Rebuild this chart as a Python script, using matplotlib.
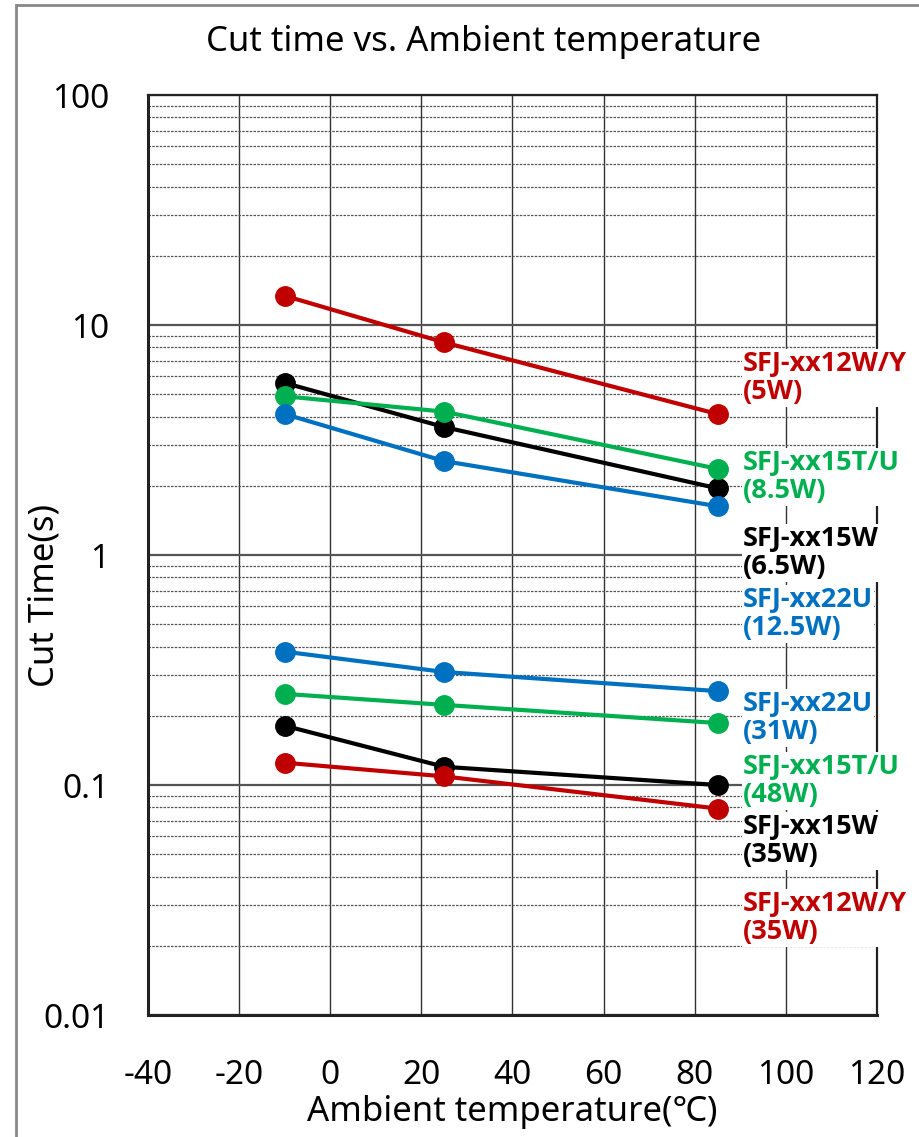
"""
Cut time vs. ambient temperature for the SFJ fuse series.
Rebuilds the log-scale chart and saves it to out.png.
"""

import matplotlib.pyplot as plt
from matplotlib.patches import Rectangle
from matplotlib.ticker import FixedLocator, NullFormatter

plt.rcParams["font.family"] = ["Noto Sans", "DejaVu Sans"]

# ------------------------------------------------------------------
# Data
# ------------------------------------------------------------------
temps = [-10, 25, 85]

red_5w = [13.4, 8.4, 4.1]
black_6w5 = [5.6, 3.6, 1.95]
green_8w5 = [4.9, 4.2, 2.37]
blue_12w5 = [4.1, 2.56, 1.63]
blue_31w = [0.38, 0.31, 0.256]
green_48w = [0.249, 0.223, 0.186]
black_35w = [0.181, 0.12, 0.1]
red_35w = [0.125, 0.109, 0.079]

series_names = [
    "SFJ-xx12W/Y\n(5W)", "SFJ-xx15T/U\n(8.5W)", "SFJ-xx15W\n(6.5W)",
    "SFJ-xx22U\n(12.5W)", "SFJ-xx22U\n(31W)", "SFJ-xx15T/U\n(48W)",
    "SFJ-xx15W\n(35W)", "SFJ-xx12W/Y\n(35W)",
]

x_ticks = [-40, -20, 0, 20, 40, 60, 80, 100, 120]
y_ticks = [0.01, 0.1, 1, 10, 100]
y_ticklabels = ["0.01", "0.1", "1", "10", "100"]

# ------------------------------------------------------------------
# Styles / layout
# ------------------------------------------------------------------
RED = "#C00000"
GREEN = "#00B050"
BLACK = "#000000"
BLUE = "#0070C0"

lines = [
    (red_5w, RED), (black_6w5, BLACK), (green_8w5, GREEN), (blue_12w5, BLUE),
    (blue_31w, BLUE), (green_48w, GREEN), (black_35w, BLACK), (red_35w, RED),
]
label_colors = [RED, GREEN, BLACK, BLUE, BLUE, GREEN, BLACK, RED]
# vertical centre of each two-line label, in pixels from the top
label_y_px = [378, 477, 553, 614, 718, 781, 841, 918]

W, H = 920, 1137
fig = plt.figure(figsize=(W / 100, H / 100), dpi=100)
ax = fig.add_axes([148 / W, 1 - 1015 / H, 729 / W, 920 / H])

for vals, col in lines:
    ax.plot(temps, vals, color=col, lw=3, marker="o", ms=14,
            solid_capstyle="round", zorder=4)

ax.set_yscale("log")
ax.set_xlim(-40, 120)
ax.set_ylim(0.01, 100)
ax.set_xticks(x_ticks)
ax.set_xticklabels([str(t) for t in x_ticks])
ax.yaxis.set_major_locator(FixedLocator(y_ticks))
ax.set_yticklabels(y_ticklabels)
minor = [m * 10.0 ** e for e in range(-2, 2) for m in range(2, 10)]
ax.yaxis.set_minor_locator(FixedLocator(minor))
ax.yaxis.set_minor_formatter(NullFormatter())

ax.grid(True, axis="x", which="major", color="#333333", lw=1.0)
ax.grid(True, axis="y", which="major", color="#555555", lw=1.6)
ax.grid(True, axis="y", which="minor", color="#555555", lw=0.9,
        linestyle=(0, (2, 1)))
ax.set_axisbelow(True)

ax.tick_params(which="both", length=0, labelsize=24)
ax.tick_params(axis="y", pad=28)
ax.tick_params(axis="x", pad=32)
for sp in ax.spines.values():
    sp.set_color("#222222")
    sp.set_linewidth(1.6)
ax.spines["bottom"].set_linewidth(2.2)
ax.spines["left"].set_linewidth(2.2)

ax.set_xlabel("Ambient temperature(℃)", fontsize=25, labelpad=2)

fig.text(45 / W, 1 - 595 / H, "Cut Time(s)", fontsize=25, rotation=90,
         ha="center", va="center")
fig.text(484 / W, 1 - 42 / H, "Cut time vs. Ambient temperature",
         fontsize=25, ha="center", va="center")

for name, col, ypx in zip(series_names, label_colors, label_y_px):
    fig.text(743 / W, 1 - ypx / H, name, color=col, fontsize=19.5,
             family=["Open Sans", "DejaVu Sans"], fontweight="bold",
             ha="left", va="center", linespacing=1.12, zorder=10,
             bbox=dict(facecolor="white", edgecolor="none", pad=1.0))

# outer frame of the chart area
fig.patches.append(Rectangle((16 / W, -0.1), 2, (H - 5) / H + 0.1,
                             transform=fig.transFigure, fill=False,
                             edgecolor="#888888", lw=2))

fig.savefig("out.png", dpi=100)
